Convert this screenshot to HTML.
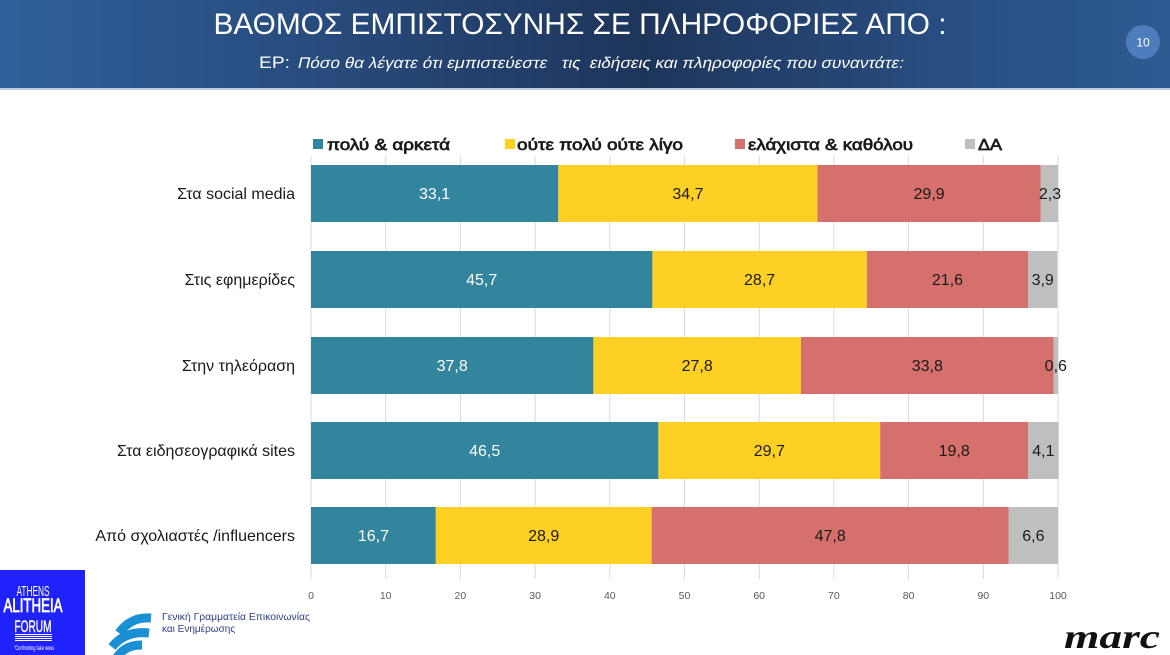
<!DOCTYPE html>
<html>
<head>
<meta charset="utf-8">
<style>
html,body{margin:0;padding:0;background:#fff;}
svg{display:block;}
</style>
</head>
<body>
<svg width="1170" height="655" viewBox="0 0 1170 655" xmlns="http://www.w3.org/2000/svg" font-family="Liberation Sans, DejaVu Sans, sans-serif">
<defs>
<linearGradient id="hg" x1="0" y1="0" x2="1" y2="0">
<stop offset="0" stop-color="#2f609b"/>
<stop offset="0.3" stop-color="#27497a"/>
<stop offset="0.55" stop-color="#1e355b"/>
<stop offset="0.8" stop-color="#284d80"/>
<stop offset="1" stop-color="#2d5b91"/>
</linearGradient>
</defs>
<rect x="0" y="0" width="1170" height="655" fill="#ffffff"/>
<!-- header -->
<rect x="0" y="0" width="1170" height="88" fill="url(#hg)"/>
<rect x="0" y="88" width="1170" height="2" fill="#b9cce4"/>
<text x="580" y="34" font-size="30" fill="#ffffff" text-anchor="middle" textLength="733" lengthAdjust="spacingAndGlyphs">ΒΑΘΜΟΣ ΕΜΠΙΣΤΟΣΥΝΗΣ ΣΕ ΠΛΗΡΟΦΟΡΙΕΣ ΑΠΟ :</text>
<text x="259" y="68" font-size="17" fill="#ffffff" textLength="31" lengthAdjust="spacingAndGlyphs">ΕΡ:</text>
<g transform="translate(297,68) skewX(-13)">
<text x="0" y="0" font-size="15.5" fill="#ffffff" textLength="606" lengthAdjust="spacingAndGlyphs" xml:space="preserve">Πόσο θα λέγατε ότι εμπιστεύεστε   τις  ειδήσεις και πληροφορίες που συναντάτε:</text>
</g>
<circle cx="1143" cy="42" r="17" fill="#4e7dbd"/>
<text x="1143" y="46.5" font-size="12" fill="#ffffff" text-anchor="middle">10</text>

<!-- legend -->
<rect x="313" y="139" width="10" height="10" fill="#32859c"/>
<text x="327" y="150" font-size="16" fill="#1a1a1a" stroke="#1a1a1a" stroke-width="0.7" textLength="123" lengthAdjust="spacingAndGlyphs">πολύ &amp; αρκετά</text>
<rect x="505" y="139" width="10" height="10" fill="#fdd023"/>
<text x="517" y="150" font-size="16" fill="#1a1a1a" stroke="#1a1a1a" stroke-width="0.7" textLength="166" lengthAdjust="spacingAndGlyphs">ούτε πολύ ούτε λίγο</text>
<rect x="735" y="139" width="10" height="10" fill="#d5706c"/>
<text x="748" y="150" font-size="16" fill="#1a1a1a" stroke="#1a1a1a" stroke-width="0.7" textLength="165" lengthAdjust="spacingAndGlyphs">ελάχιστα &amp; καθόλου</text>
<rect x="965" y="139" width="10" height="10" fill="#bfbfbf"/>
<text x="978" y="150" font-size="16" fill="#1a1a1a" stroke="#1a1a1a" stroke-width="0.7" textLength="24" lengthAdjust="spacingAndGlyphs">ΔΑ</text>

<!-- gridlines -->
<g stroke="#d9d9d9" stroke-width="1">
<line x1="311" y1="156" x2="311" y2="579"/>
<line x1="385.7" y1="156" x2="385.7" y2="579"/>
<line x1="460.4" y1="156" x2="460.4" y2="579"/>
<line x1="535.1" y1="156" x2="535.1" y2="579"/>
<line x1="609.8" y1="156" x2="609.8" y2="579"/>
<line x1="684.5" y1="156" x2="684.5" y2="579"/>
<line x1="759.2" y1="156" x2="759.2" y2="579"/>
<line x1="833.9" y1="156" x2="833.9" y2="579"/>
<line x1="908.6" y1="156" x2="908.6" y2="579"/>
<line x1="983.3" y1="156" x2="983.3" y2="579"/>
<line x1="1058" y1="156" x2="1058" y2="579"/>
</g>

<!-- bars -->
<g>
<rect x="311" y="165" width="247.3" height="57" fill="#32859c"/>
<rect x="558.3" y="165" width="259.2" height="57" fill="#fdd023"/>
<rect x="817.5" y="165" width="223.3" height="57" fill="#d5706c"/>
<rect x="1040.8" y="165" width="17.2" height="57" fill="#bfbfbf"/>

<rect x="311" y="251" width="341.4" height="57" fill="#32859c"/>
<rect x="652.4" y="251" width="214.4" height="57" fill="#fdd023"/>
<rect x="866.8" y="251" width="161.3" height="57" fill="#d5706c"/>
<rect x="1028.1" y="251" width="29.1" height="57" fill="#bfbfbf"/>

<rect x="311" y="337" width="282.4" height="57" fill="#32859c"/>
<rect x="593.4" y="337" width="207.6" height="57" fill="#fdd023"/>
<rect x="801" y="337" width="252.5" height="57" fill="#d5706c"/>
<rect x="1053.5" y="337" width="4.5" height="57" fill="#bfbfbf"/>

<rect x="311" y="422" width="347.4" height="57" fill="#32859c"/>
<rect x="658.4" y="422" width="221.8" height="57" fill="#fdd023"/>
<rect x="880.2" y="422" width="147.9" height="57" fill="#d5706c"/>
<rect x="1028.1" y="422" width="30.6" height="57" fill="#bfbfbf"/>

<rect x="311" y="507" width="124.8" height="57" fill="#32859c"/>
<rect x="435.8" y="507" width="215.8" height="57" fill="#fdd023"/>
<rect x="651.6" y="507" width="357.1" height="57" fill="#d5706c"/>
<rect x="1008.7" y="507" width="49.3" height="57" fill="#bfbfbf"/>
</g>

<!-- data labels -->
<g font-size="16" text-anchor="middle">
<text x="434.6" y="199" fill="#ffffff">33,1</text>
<text x="687.9" y="199" fill="#1a1a1a">34,7</text>
<text x="929.1" y="199" fill="#1a1a1a">29,9</text>
<text x="1050" y="199" fill="#1a1a1a">2,3</text>

<text x="481.7" y="285" fill="#ffffff">45,7</text>
<text x="759.6" y="285" fill="#1a1a1a">28,7</text>
<text x="947.4" y="285" fill="#1a1a1a">21,6</text>
<text x="1042.7" y="285" fill="#1a1a1a">3,9</text>

<text x="452.2" y="371" fill="#ffffff">37,8</text>
<text x="697.2" y="371" fill="#1a1a1a">27,8</text>
<text x="927.3" y="371" fill="#1a1a1a">33,8</text>
<text x="1055.8" y="371" fill="#1a1a1a">0,6</text>

<text x="484.7" y="456" fill="#ffffff">46,5</text>
<text x="769.3" y="456" fill="#1a1a1a">29,7</text>
<text x="954.2" y="456" fill="#1a1a1a">19,8</text>
<text x="1043.4" y="456" fill="#1a1a1a">4,1</text>

<text x="373.4" y="541" fill="#ffffff">16,7</text>
<text x="543.7" y="541" fill="#1a1a1a">28,9</text>
<text x="830.2" y="541" fill="#1a1a1a">47,8</text>
<text x="1033.4" y="541" fill="#1a1a1a">6,6</text>
</g>

<!-- category labels -->
<g font-size="16" text-anchor="end" fill="#1a1a1a">
<text x="295" y="199">Στα social media</text>
<text x="295" y="285">Στις εφημερίδες</text>
<text x="295" y="371">Στην τηλεόραση</text>
<text x="295" y="456">Στα ειδησεογραφικά sites</text>
<text x="295" y="541">Από σχολιαστές /influencers</text>
</g>

<!-- tick labels -->
<g font-size="10.5" text-anchor="middle" fill="#595959">
<text x="311" y="599">0</text>
<text x="385.7" y="599">10</text>
<text x="460.4" y="599">20</text>
<text x="535.1" y="599">30</text>
<text x="609.8" y="599">40</text>
<text x="684.5" y="599">50</text>
<text x="759.2" y="599">60</text>
<text x="833.9" y="599">70</text>
<text x="908.6" y="599">80</text>
<text x="983.3" y="599">90</text>
<text x="1058" y="599">100</text>
</g>

<!-- Athens Alitheia Forum logo -->
<rect x="0" y="570" width="85" height="85" fill="#1f22fb"/>
<g fill="#ffffff" text-anchor="middle">
<text x="33" y="596" font-size="15" textLength="33" lengthAdjust="spacingAndGlyphs">ATHENS</text>
<text x="33" y="612" font-size="19" stroke="#ffffff" stroke-width="0.8" textLength="59" lengthAdjust="spacingAndGlyphs">ALITHEIA</text>
<text x="33" y="632" font-size="17" stroke="#ffffff" stroke-width="0.4" textLength="37" lengthAdjust="spacingAndGlyphs">FORUM</text>
<rect x="15" y="634" width="37" height="1" />
<rect x="15" y="636" width="37" height="1" />
<rect x="15" y="638" width="37" height="1" />
<rect x="15" y="640" width="37" height="1" />
<text x="34" y="650" font-size="6" textLength="40" lengthAdjust="spacingAndGlyphs">"Confronting fake news</text>
</g>

<!-- Gen. Secretariat logo -->
<g fill="none" stroke="#1b8fd3" stroke-width="9" stroke-linecap="butt">
<path d="M119,633 C127,622 138,617 151,618"/>
<path d="M112,647 C120,637 132,631 149,633"/>
<path d="M117,657 C123,649 130,645 142,645"/>
</g>
<g fill="#2e3e8e" font-size="10">
<text x="162" y="620" textLength="148" lengthAdjust="spacingAndGlyphs">Γενική Γραμματεία Επικοινωνίας</text>
<text x="162" y="632">και Ενημέρωσης</text>
</g>

<!-- marc logo -->
<text x="1064" y="648" style="font-family:'Liberation Serif','DejaVu Serif',serif;font-style:italic;font-weight:bold;" font-size="34" fill="#111111" textLength="96" lengthAdjust="spacingAndGlyphs">marc</text>
</svg>
</body>
</html>
